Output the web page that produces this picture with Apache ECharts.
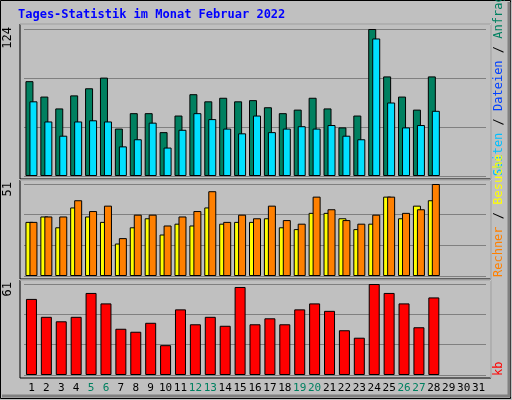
<!DOCTYPE html>
<html><head><meta charset="utf-8">
<script src="https://cdn.jsdelivr.net/npm/echarts@6/dist/echarts.min.js"></script>
<style>html,body{margin:0;padding:0;background:#C0C0C0}#c{width:512px;height:400px}</style>
</head><body><div id="c"></div>
<script>
const days = Array.from({length:31},(_,i)=>String(i+1));
const weekend = ['5','6','12','13','19','20','26','27'];
const anfragen = [80,67,57,68,74,83,40,53,53,37,51,69,63,66,63,64,58,53,56,66,57,41,51,124,84,67,56,84];
const dateien  = [63,46,34,46,47,46,25,31,45,24,39,53,48,40,36,51,37,40,42,40,43,34,31,116,62,41,43,55];
const besuche  = [30,33,27,38,33,30,18,27,32,23,29,28,38,29,30,30,32,27,26,35,35,32,26,29,44,32,39,42];
const rechner  = [30,33,33,42,36,39,21,34,34,28,33,36,47,30,34,32,39,31,29,44,37,31,29,34,44,35,37,51];
const kb       = [51,39,36,39,55,48,31,29,35,20,44,34,39,33,59,34,38,34,44,48,43,30,25,61,55,48,32,52];
const maxTop = 124, maxMid = 51, maxBot = 61;

const chart = echarts.init(document.getElementById('c'));
const font = "'DejaVu Sans Mono', monospace";
const grids = [
  {left:24, right:26, top:29, height:147},
  {left:24, right:26, top:184, height:92},
  {left:24, right:26, top:284, height:91}
];
const maxes=[maxTop,maxMid,maxBot];
function xa(i){return {type:'category',gridIndex:i,data:days,boundaryGap:true,
  axisLine:{show:false},axisTick:{show:false},
  axisLabel:{show:i===2,interval:0,margin:8,fontFamily:font,fontSize:11,
    formatter:v=>weekend.includes(v)?'{w|'+v+'}':'{n|'+v+'}',
    rich:{w:{color:'#008060',fontFamily:font,fontSize:11},n:{color:'#000',fontFamily:font,fontSize:11}}}};}
function ya(i){return {type:'value',gridIndex:i,min:0,max:maxes[i],interval:maxes[i]/3,
  axisLine:{show:false},axisTick:{show:false},axisLabel:{show:false},
  splitLine:{lineStyle:{color:'#808080',width:1}}};}
const bs = {type:'bar',barWidth:8,barGap:'-50%',itemStyle:{borderColor:'#000',borderWidth:1},animation:false};
function panel(y,h){return [
  {type:'rect',shape:{x:20,y:y,width:471,height:h},style:{fill:'#C0C0C0',stroke:'#000',lineWidth:1},z:-10},
  {type:'line',shape:{x1:20,y1:y,x2:491,y2:y},style:{stroke:'#fff',lineWidth:1},z:-9},
  {type:'line',shape:{x1:491,y1:y,x2:491,y2:y+h},style:{stroke:'#fff',lineWidth:1},z:-9}
];}
function vtext(x,y,rich,text){return {type:'text',x:x,y:y,rotation:Math.PI/2,
  style:{text:text,rich:rich,font:'12px '+font,textAlign:'right',textVerticalAlign:'middle'}};}
chart.setOption({
  backgroundColor:'#C0C0C0',
  grid:grids,
  xAxis:[xa(0),xa(1),xa(2)],
  yAxis:[ya(0),ya(1),ya(2)],
  series:[
    Object.assign({},bs,{name:'Anfragen',xAxisIndex:0,yAxisIndex:0,data:anfragen,itemStyle:{color:'#008060',borderColor:'#000',borderWidth:1}}),
    Object.assign({},bs,{name:'Dateien',xAxisIndex:0,yAxisIndex:0,data:dateien,itemStyle:{color:'#00E0FF',borderColor:'#000',borderWidth:1}}),
    Object.assign({},bs,{name:'Besuche',xAxisIndex:1,yAxisIndex:1,data:besuche,itemStyle:{color:'#FFFF00',borderColor:'#000',borderWidth:1}}),
    Object.assign({},bs,{name:'Rechner',xAxisIndex:1,yAxisIndex:1,data:rechner,itemStyle:{color:'#FF8000',borderColor:'#000',borderWidth:1}}),
    Object.assign({},bs,{name:'kb',xAxisIndex:2,yAxisIndex:2,data:kb,barWidth:11,itemStyle:{color:'#FF0000',borderColor:'#000',borderWidth:1}})
  ],
  graphic:[
    {type:'rect',shape:{x:0.5,y:0.5,width:510,height:398},style:{fill:null,stroke:'#000',lineWidth:1},z:-20},
    {type:'line',shape:{x1:2,y1:396,x2:510,y2:396},style:{stroke:'#808080',lineWidth:3},z:-20},
    {type:'line',shape:{x1:509,y1:2,x2:509,y2:397},style:{stroke:'#808080',lineWidth:3},z:-20},
    {type:'text',x:18,y:9,style:{text:'Tages-Statistik im Monat Februar 2022',font:'bold 12px '+font,fill:'#0000FF'}},
    ...panel(24,155),...panel(180,99),...panel(280,98),
    {type:'text',x:8,y:27,rotation:Math.PI/2,style:{text:'124',font:'12px '+font,fill:'#000',textAlign:'right',textVerticalAlign:'middle'}},
    {type:'text',x:8,y:182,rotation:Math.PI/2,style:{text:'51',font:'12px '+font,fill:'#000',textAlign:'right',textVerticalAlign:'middle'}},
    {type:'text',x:8,y:282,rotation:Math.PI/2,style:{text:'61',font:'12px '+font,fill:'#000',textAlign:'right',textVerticalAlign:'middle'}},
    {type:'text',x:499,y:176,rotation:Math.PI/2,style:{text:'{s|Seiten} / {d|Dateien} / {a|Anfragen}',
      rich:{s:{fill:'#00C0FF',font:'12px '+font},d:{fill:'#0040FF',font:'12px '+font},a:{fill:'#008060',font:'12px '+font}},
      font:'12px '+font,fill:'#000',textAlign:'left',textVerticalAlign:'middle'}},
    {type:'text',x:499,y:277,rotation:Math.PI/2,style:{text:'{r|Rechner} / {b|Besuche}',
      rich:{r:{fill:'#FF8000',font:'12px '+font},b:{fill:'#FFFF00',font:'12px '+font}},
      font:'12px '+font,fill:'#000',textAlign:'left',textVerticalAlign:'middle'}},
    {type:'text',x:499,y:376,rotation:Math.PI/2,style:{text:'kb',font:'12px '+font,fill:'#FF0000',textAlign:'left',textVerticalAlign:'middle'}}
  ]
});
</script></body></html>
